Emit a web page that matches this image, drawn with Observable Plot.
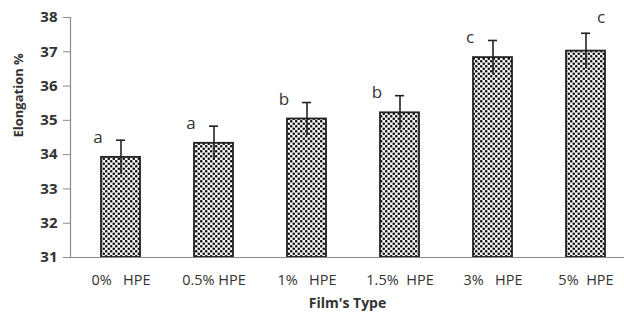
<!DOCTYPE html>
<html>
<head>
<meta charset="utf-8">
<script src="https://cdn.jsdelivr.net/npm/d3@7"></script>
<script src="https://cdn.jsdelivr.net/npm/@observablehq/plot@0.6"></script>
<style>
  html, body { margin: 0; padding: 0; background: #fff; }
  svg text { white-space: pre; }
</style>
</head>
<body>
<div id="chart"></div>
<script>
const categories = ["0%   HPE", "0.5% HPE", "1%   HPE", "1.5%  HPE", "3%   HPE", "5%  HPE"];
const values = [33.92, 34.33, 35.04, 35.22, 36.83, 37.02];
const errors = [0.5, 0.5, 0.48, 0.5, 0.5, 0.52];
const letters = ["a", "a", "b", "b", "c", "c"];
const yTicks = [31, 32, 33, 34, 35, 36, 37, 38];

const data = categories.map((c, i) => ({cat: c, v: values[i], e: errors[i], lab: letters[i], i}));

const font = "'Open Sans', 'Liberation Sans', sans-serif";
const textColor = "#333";

const chart = Plot.plot({
  width: 624,
  height: 321,
  marginLeft: 70,
  marginRight: 0,
  marginTop: 17,
  marginBottom: 64,
  style: {fontFamily: font, fontSize: "14px", color: textColor, background: "#fff", overflow: "visible"},
  x: {domain: categories, range: [73, 634], paddingInner: 0.58, paddingOuter: 0.29, label: null},
  y: {domain: [31, 38], label: null},
  marks: [
    Plot.barY(data, {x: "cat", y1: 31, y2: "v", fill: "url(#dots)", stroke: "#222", strokeWidth: 1.8}),
    Plot.ruleX(data, {x: "cat", y1: d => d.v - d.e, y2: d => d.v + d.e, stroke: "#222", strokeWidth: 1.6}),
    Plot.tickY(data, {x: "cat", y: d => d.v + d.e, stroke: "#222", strokeWidth: 1.6, inset: 15}),
    Plot.text(data.filter(d => d.i < 5), {x: "cat", y: d => d.v + d.e, text: "lab", dx: -23, dy: -3, fontSize: 17, fill: textColor, fontFamily: font}),
    Plot.text(data.filter(d => d.i === 5), {x: "cat", y: d => d.v + d.e, text: "lab", dx: 15, dy: -16, fontSize: 17, fill: textColor, fontFamily: font}),
    Plot.ruleY([31], {stroke: "#8a8a8a", strokeWidth: 1.2}),
    Plot.frame({anchor: "left", stroke: "#8a8a8a", strokeWidth: 1.2}),
    Plot.axisY({ticks: yTicks, tickSize: 7, tickPadding: 6, stroke: "#8a8a8a", fontSize: 15, fontWeight: "bold", fill: textColor, label: null, tickFormat: d => String(d)}),
    Plot.axisX({tickSize: 0, tickPadding: 17, fontSize: 14.5, fill: textColor, label: null}),
    Plot.text(["Elongation %"], {frameAnchor: "left", dx: -52, dy: 0, rotate: -90, fontWeight: "bold", fontSize: 13, fill: textColor, text: d => d}),
    Plot.text(["Film's Type"], {frameAnchor: "bottom", dy: 50, fontWeight: "bold", fontSize: 14, fill: textColor, text: d => d})
  ]
});

// dotted fill pattern
const svg = d3.select(chart);
const defs = svg.insert("defs", ":first-child");
const s = 5;
const pat = defs.append("pattern")
  .attr("id", "dots")
  .attr("patternUnits", "userSpaceOnUse")
  .attr("width", s)
  .attr("height", s);
pat.append("rect").attr("width", s).attr("height", s).attr("fill", "#f6f6f6");
pat.append("circle").attr("cx", s / 4).attr("cy", s / 4).attr("r", 1.3).attr("fill", "#151515");
pat.append("circle").attr("cx", 3 * s / 4).attr("cy", 3 * s / 4).attr("r", 1.3).attr("fill", "#151515");

document.getElementById("chart").appendChild(chart);
</script>
</body>
</html>
